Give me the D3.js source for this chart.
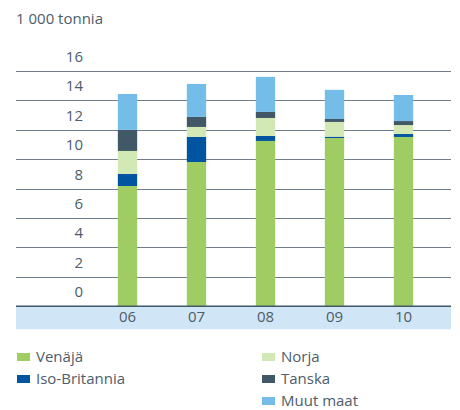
<!DOCTYPE html>
<html>
<head>
<meta charset="utf-8">
<script src="https://cdn.jsdelivr.net/npm/d3@7"></script>
<style>
  body { margin: 0; background: #fff; }
  text { font-family: "Open Sans", "Noto Sans", sans-serif; fill: #4d5d69; }
</style>
</head>
<body>
<div id="graph"></div>
<script>
// data
var years = ["06", "07", "08", "09", "10"];
var series = ["Venäjä", "Iso-Britannia", "Norja", "Tanska", "Muut maat"];
var venaja  = [8.17, 9.80, 11.23, 11.43, 11.50];
var iso     = [0.82, 1.70, 0.34, 0.09, 0.20];
var norja   = [1.56, 0.68, 1.22, 1.00, 0.61];
var tanska  = [1.43, 0.68, 0.41, 0.20, 0.27];
var muut    = [2.44, 2.24, 2.38, 1.98, 1.77];
var yTicks = [0, 2, 4, 6, 8, 10, 12, 14, 16];

var colors = ["#a0cd63", "#0054a0", "#d2e8b5", "#415867", "#75bde9"];

var w = 460, h = 410;
var vis = d3.select("#graph").append("svg").attr("width", w).attr("height", h);

var rows = years.map(function(y, i) {
  return { year: y, "Venäjä": venaja[i], "Iso-Britannia": iso[i], "Norja": norja[i],
           "Tanska": tanska[i], "Muut maat": muut[i] };
});
var stacked = d3.stack().keys(series)(rows);

var x = d3.scaleBand().domain(years).range([93, 438]).paddingInner(0.72).paddingOuter(0.36);
var y = d3.scaleLinear().domain([0, 16]).range([306.3, 70.7]);

// title
vis.append("text").attr("x", 16).attr("y", 24).attr("font-size", 15).text("1 000 tonnia");

// gridlines
vis.selectAll("line.grid")
   .data(yTicks.filter(d => d > 0))
   .enter().append("line")
   .attr("class", "grid")
   .attr("x1", 16).attr("x2", 451)
   .attr("y1", d => Math.round(y(d)) + 0.5).attr("y2", d => Math.round(y(d)) + 0.5)
   .attr("stroke", "#6f7e8a").attr("stroke-width", 1.2);

// y labels sit above their gridline
vis.selectAll("text.ylab")
   .data(yTicks)
   .enter().append("text")
   .attr("class", "ylab")
   .attr("x", 83).attr("y", d => y(d) - 9)
   .attr("text-anchor", "end").attr("font-size", 15)
   .text(d => d);

// x band
vis.append("rect").attr("x", 16).attr("y", y(0)).attr("width", 435).attr("height", 23)
   .attr("fill", "#d0e5f5");

// bars
vis.selectAll("g.layer")
   .data(stacked)
   .enter().append("g")
   .attr("class", "layer")
   .attr("fill", (d, i) => colors[i])
   .selectAll("rect")
   .data(d => d)
   .enter().append("rect")
   .attr("x", d => x(d.data.year))
   .attr("width", x.bandwidth())
   .attr("y", d => y(d[1]))
   .attr("height", d => y(d[0]) - y(d[1]));

// baseline
vis.append("line").attr("x1", 16).attr("x2", 451)
   .attr("y1", y(0)).attr("y2", y(0))
   .attr("stroke", "#415867").attr("stroke-width", 1.5);

// x labels
vis.selectAll("text.xlab")
   .data(years)
   .enter().append("text")
   .attr("class", "xlab")
   .attr("x", d => x(d) + x.bandwidth() / 2).attr("y", 322)
   .attr("text-anchor", "middle").attr("font-size", 15)
   .text(d => d);

// legend
var legPos = [[17, 357], [17, 379], [262, 357], [262, 379], [262, 401]];
var leg = vis.selectAll("g.leg")
   .data(series)
   .enter().append("g")
   .attr("class", "leg")
   .attr("transform", (d, i) => "translate(" + legPos[i][0] + "," + legPos[i][1] + ")");
leg.append("rect").attr("x", 0).attr("y", -4).attr("width", 13).attr("height", 8)
   .attr("fill", (d, i) => colors[i]);
leg.append("text").attr("x", 19).attr("y", 5).attr("font-size", 15).text(d => d);
</script>
</body>
</html>
